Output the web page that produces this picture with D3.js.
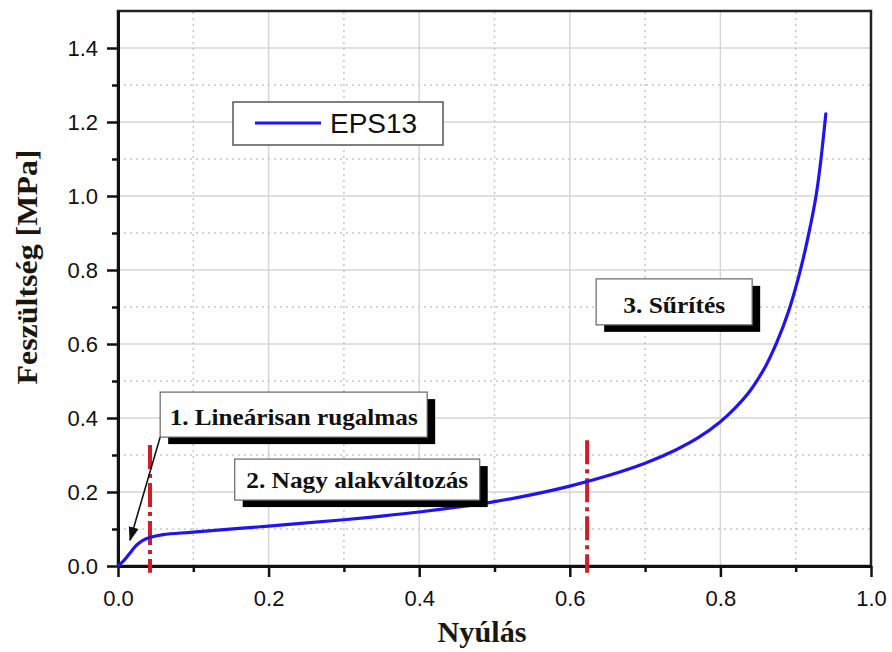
<!DOCTYPE html>
<html>
<head>
<meta charset="utf-8">
<script src="https://cdn.jsdelivr.net/npm/d3@7.9.0/dist/d3.min.js"></script>
<style>
  body { margin: 0; background: #fff; }
  svg { display: block; }
</style>
</head>
<body>
<div id="chart"></div>
<script>
// stress-strain curve of EPS13
const strain = [0, 0.008, 0.016, 0.024, 0.032, 0.042, 0.06, 0.1, 0.2, 0.3, 0.35, 0.4, 0.45, 0.5,
  0.55, 0.6, 0.65, 0.7, 0.74, 0.77, 0.8, 0.82, 0.84, 0.86, 0.875, 0.89, 0.905, 0.917, 0.927,
  0.933, 0.94];
const stress = [0, 0.015, 0.035, 0.055, 0.068, 0.077, 0.085, 0.0915, 0.108, 0.125, 0.135, 0.146, 0.159, 0.174,
  0.193, 0.216, 0.244, 0.278, 0.313, 0.346, 0.39, 0.428, 0.475, 0.54, 0.605, 0.685, 0.79, 0.895, 1.0,
  1.09, 1.222];

const seriesName = 'EPS13';
const xTicks = [0, 0.2, 0.4, 0.6, 0.8, 1.0];
const yTicks = [0, 0.2, 0.4, 0.6, 0.8, 1.0, 1.2, 1.4];
const xMinor = [0.1, 0.3, 0.5, 0.7, 0.9];
const yMinor = [0.1, 0.3, 0.5, 0.7, 0.9, 1.1, 1.3];

// phase boundaries (dash-dot red lines)
const boundaries = [0.0425, 0.623];
const phaseLabels = ['1. Lineárisan rugalmas', '2. Nagy alakváltozás', '3. Sűrítés'];

const width = 892, height = 652;
const margin = { top: 11, right: 21, bottom: 86, left: 118 };

const svg = d3.select('#chart').append('svg')
  .attr('width', width)
  .attr('height', height);

const x = d3.scaleLinear().domain([0, 1.0]).range([margin.left, width - margin.right]);
const y = d3.scaleLinear().domain([0, 1.5]).range([height - margin.bottom, margin.top]);

// grid
const grid = svg.append('g');
grid.selectAll('.vmaj').data(xTicks.slice(1, -1)).join('line')
  .attr('x1', d => x(d)).attr('x2', d => x(d))
  .attr('y1', y(0)).attr('y2', y(1.5))
  .attr('stroke', '#d6d6d6').attr('stroke-width', 1.5);
grid.selectAll('.hmaj').data(yTicks.slice(1)).join('line')
  .attr('y1', d => y(d)).attr('y2', d => y(d))
  .attr('x1', x(0)).attr('x2', x(1))
  .attr('stroke', '#d6d6d6').attr('stroke-width', 1.5);
grid.selectAll('.vmin').data(xMinor).join('line')
  .attr('x1', d => x(d)).attr('x2', d => x(d))
  .attr('y1', y(0)).attr('y2', y(1.5))
  .attr('stroke', '#c8c8c8').attr('stroke-width', 1.5)
  .attr('stroke-dasharray', '2,4');
grid.selectAll('.hmin').data(yMinor).join('line')
  .attr('y1', d => y(d)).attr('y2', d => y(d))
  .attr('x1', x(0)).attr('x2', x(1))
  .attr('stroke', '#c8c8c8').attr('stroke-width', 1.5)
  .attr('stroke-dasharray', '2,4');

// frame
svg.append('rect')
  .attr('x', x(0)).attr('y', y(1.5))
  .attr('width', x(1) - x(0)).attr('height', y(0) - y(1.5))
  .attr('fill', 'none').attr('stroke', '#222').attr('stroke-width', 2.5);

// axes
svg.append('g')
  .attr('transform', `translate(0,${y(0)})`)
  .call(d3.axisBottom(x).tickValues(xTicks).tickFormat(d3.format('.1f'))
    .tickSize(11).tickSizeOuter(0).tickPadding(13));
svg.append('g')
  .attr('transform', `translate(0,${y(0)})`)
  .call(d3.axisBottom(x).tickValues(xMinor).tickFormat('').tickSize(6).tickSizeOuter(0));

svg.append('g')
  .attr('transform', `translate(${x(0)},0)`)
  .call(d3.axisLeft(y).tickValues(yTicks).tickFormat(d3.format('.1f'))
    .tickSize(11).tickSizeOuter(0).tickPadding(9));
svg.append('g')
  .attr('transform', `translate(${x(0)},0)`)
  .call(d3.axisLeft(y).tickValues(yMinor).tickFormat('').tickSize(6).tickSizeOuter(0));

svg.selectAll('.domain').attr('stroke', '#111').attr('stroke-width', 3);
svg.selectAll('.tick line').attr('stroke', '#111').attr('stroke-width', 2.5);
svg.selectAll('.tick text')
  .attr('font-family', '"Liberation Sans", Arial, sans-serif')
  .attr('font-size', 22).attr('fill', '#111');

// axis titles
svg.append('text')
  .attr('x', 482).attr('y', 642)
  .attr('text-anchor', 'middle')
  .attr('font-family', '"Liberation Serif", "Times New Roman", serif')
  .attr('font-weight', 'bold').attr('font-size', 29)
  .attr('fill', '#1c170c')
  .attr('textLength', 89).attr('lengthAdjust', 'spacingAndGlyphs')
  .text('Nyúlás');

svg.append('text')
  .attr('transform', 'translate(37,267) rotate(-90)')
  .attr('text-anchor', 'middle')
  .attr('font-family', '"Liberation Serif", "Times New Roman", serif')
  .attr('font-weight', 'bold').attr('font-size', 30)
  .attr('fill', '#1c170c')
  .attr('textLength', 235).attr('lengthAdjust', 'spacingAndGlyphs')
  .text('Feszültség [MPa]');

// phase boundaries
svg.selectAll('.bound').data(boundaries).join('line')
  .attr('x1', d => x(d)).attr('x2', d => x(d))
  .attr('y1', (d, i) => y(i === 0 ? 0.327 : 0.34)).attr('y2', y(-0.018))
  .attr('stroke', '#d01e26').attr('stroke-width', 4)
  .attr('stroke-dasharray', '24,5,4,5');

// curve
const points = strain.map((s, i) => [s, stress[i]]);
svg.append('path')
  .datum(points)
  .attr('fill', 'none')
  .attr('stroke', '#1f14f2')
  .attr('stroke-width', 3.2)
  .attr('stroke-linecap', 'round')
  .attr('d', d3.line().x(d => x(d[0])).y(d => y(d[1])).curve(d3.curveCatmullRom.alpha(0.5)));

// legend
const legend = svg.append('g');
legend.append('rect')
  .attr('x', 233).attr('y', 102).attr('width', 210).attr('height', 43)
  .attr('fill', '#fff').attr('stroke', '#555').attr('stroke-width', 1.5);
legend.append('line')
  .attr('x1', 255).attr('x2', 321).attr('y1', 123).attr('y2', 123)
  .attr('stroke', '#1f14f2').attr('stroke-width', 3.2);
legend.append('text')
  .attr('x', 330).attr('y', 133)
  .attr('font-family', '"Liberation Sans", Arial, sans-serif')
  .attr('font-size', 28).attr('fill', '#111')
  .text(seriesName);

// phase annotation boxes: anchor in data coords, size in px
const boxes = [
  { x0: 0.056, y0: 0.47, w: 267, h: 45, tw: 248 },
  { x0: 0.155, y0: 0.289, w: 245, h: 41, tw: 222 },
  { x0: 0.635, y0: 0.776, w: 156, h: 46, tw: 102 }
];

svg.append('defs').append('marker')
  .attr('id', 'arrow').attr('viewBox', '0 0 10 10')
  .attr('refX', 9).attr('refY', 5)
  .attr('markerWidth', 9).attr('markerHeight', 9)
  .attr('orient', 'auto')
  .append('path').attr('d', 'M0,1.5 L10,5 L0,8.5 z').attr('fill', '#111');

// arrow from box 1 to the linear part
svg.append('line')
  .attr('x1', x(boxes[0].x0)).attr('y1', y(boxes[0].y0) + boxes[0].h)
  .attr('x2', x(0.016)).attr('y2', y(0.07))
  .attr('stroke', '#111').attr('stroke-width', 1.6)
  .attr('marker-end', 'url(#arrow)');

const ann = svg.selectAll('.ann').data(boxes).join('g')
  .attr('transform', d => `translate(${x(d.x0)},${y(d.y0)})`);
ann.append('rect')
  .attr('x', 8).attr('y', 7)
  .attr('width', d => d.w).attr('height', d => d.h)
  .attr('fill', '#000');
ann.append('rect')
  .attr('width', d => d.w).attr('height', d => d.h)
  .attr('fill', '#fff').attr('stroke', '#666').attr('stroke-width', 1.2);
ann.append('text')
  .attr('x', d => d.w / 2).attr('y', d => d.h - 12)
  .attr('text-anchor', 'middle')
  .attr('font-family', '"Liberation Serif", "Times New Roman", serif')
  .attr('font-weight', 'bold').attr('font-size', 24)
  .attr('fill', '#111')
  .attr('textLength', d => d.tw).attr('lengthAdjust', 'spacingAndGlyphs')
  .text((d, i) => phaseLabels[i]);
</script>
</body>
</html>
